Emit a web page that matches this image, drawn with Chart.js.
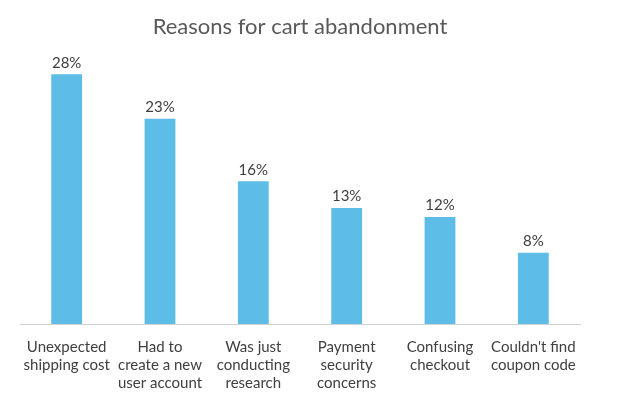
<!DOCTYPE html>
<html><head><meta charset="utf-8">
<script src="https://cdn.jsdelivr.net/npm/chart.js@4"></script>
<style>body{margin:0;background:#fff}#w{width:624px;height:416px}</style>
</head><body><div id="w"><canvas id="c"></canvas></div>
<script>
const categories=[["Unexpected","shipping cost"],["Had to","create a new","user account"],["Was just","conducting","research"],["Payment","security","concerns"],["Confusing","checkout"],["Couldn't find","coupon code"]];
const values=[28,23,16,13,12,8];
const valueLabels=["28%","23%","16%","13%","12%","8%"];
const labelPlugin={id:'lbl',afterDatasetsDraw(ch){const ctx=ch.ctx;const m=ch.getDatasetMeta(0);ctx.save();ctx.font='15px Lato';ctx.fillStyle='#404040';ctx.textAlign='center';ctx.textBaseline='bottom';m.data.forEach((b,i)=>ctx.fillText(valueLabels[i],b.x,b.y-4));ctx.restore();}};
new Chart(document.getElementById('c'),{type:'bar',data:{labels:categories,datasets:[{data:values,backgroundColor:'#5dbde6',barPercentage:0.33,categoryPercentage:1}]},
options:{responsive:true,maintainAspectRatio:false,animation:false,
layout:{padding:{left:20,right:44,top:0,bottom:10}},
plugins:{legend:{display:false},tooltip:{enabled:false},
title:{display:true,text:'Reasons for cart abandonment',color:'#595959',font:{family:'Lato',size:22,weight:'normal'},padding:{top:14,bottom:16}}},
scales:{y:{display:false,min:0,max:30},
x:{grid:{display:false,drawTicks:false},border:{color:'#d0d0d0'},ticks:{color:'#404040',font:{family:'Lato',size:15},padding:14,maxRotation:0,autoSkip:false}}}},
plugins:[labelPlugin]});
</script></body></html>
